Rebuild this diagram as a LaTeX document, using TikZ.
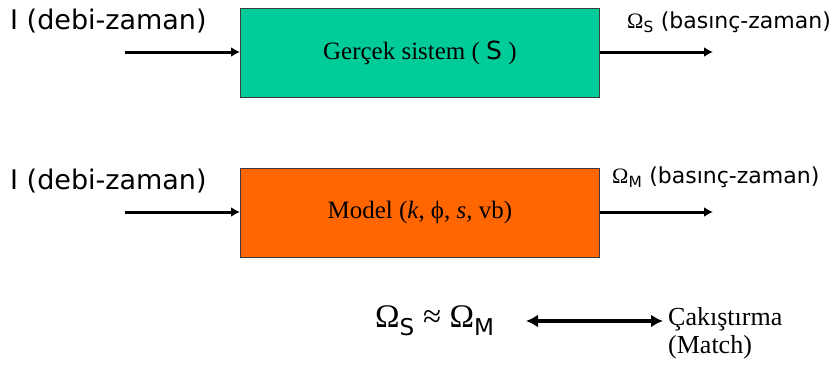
\documentclass[tikz,border=0pt]{standalone}
\usepackage{fontspec}
\setmainfont{Liberation Serif}
\newfontfamily\vsans{DejaVu Sans}
\usetikzlibrary{arrows.meta}
\definecolor{teal1}{RGB}{0,204,153}
\definecolor{orng}{RGB}{255,102,0}
\definecolor{edge}{RGB}{60,60,60}
\tikzset{
  blk/.style={draw=edge, line width=0.8pt, minimum width=359pt, minimum height=89pt, inner sep=0pt},
  arr/.style={line width=3pt, -{Latex[length=9pt,width=10pt]}},
  darr/.style={line width=4pt, {Latex[length=12pt,width=13pt]}-{Latex[length=12pt,width=13pt]}},
  biglbl/.style={inner sep=0pt, font=\vsans\fontsize{27}{31}\selectfont},
  smlbl/.style={inner sep=0pt, font=\vsans\fontsize{22}{26}\selectfont},
  boxtxt/.style={inner sep=0pt, font=\fontsize{25}{29}\selectfont},
  mtxt/.style={inner sep=0pt, font=\fontsize{26}{28}\selectfont},
}
\begin{document}
\begin{tikzpicture}[x=1pt,y=-1pt]
\useasboundingbox[fill=white] (0,0) rectangle (836,372);
% row 1
\node[blk, fill=teal1, anchor=north west] (sys) at (240,8) {};
\node[boxtxt] (systxt) at (sys.center) {Gerçek sistem ( {\vsans S} )};
\node[biglbl, anchor=base west] (in1) at (10,30) {I (debi-zaman)};
\coordinate (s1) at (125,52);
\coordinate (e1) at (713,52);
\draw[arr] (s1) -- (s1 -| sys.west);
\draw[arr] (sys.east |- e1) -- (e1);
\node[smlbl, anchor=base west] (out1) at (627,28) {{\rmfamily Ω}\textsubscript{S} (basınç-zaman)};
% row 2
\node[blk, fill=orng, anchor=north west] (mod) at (240,168) {};
\node[boxtxt] (modtxt) at (mod.center) {Model (\textit{k}, ϕ, \textit{s}, vb)};
\node[biglbl, anchor=base west] (in2) at (10,189) {I (debi-zaman)};
\coordinate (s2) at (125,212);
\coordinate (e2) at (713,212);
\draw[arr] (s2) -- (s2 -| mod.west);
\draw[arr] (mod.east |- e2) -- (e2);
\node[smlbl, anchor=base west] (out2) at (612,183) {{\rmfamily Ω}\textsubscript{M} (basınç-zaman)};
% bottom
\node[inner sep=0pt, anchor=base west, font=\fontsize{33}{37}\selectfont] (eq) at (375,327) {Ω\textsubscript{\vsans S} ≈ Ω\textsubscript{\vsans M}};
\node[mtxt, anchor=base west] (match1) at (668,325) {Çakıştırma};
\node[mtxt, anchor=base west] (match2) at (668,353) {(Match)};
\coordinate (d1) at (526,321);
\coordinate (d2) at (663,321);
\draw[darr] (d1) -- (d2);
\end{tikzpicture}
\end{document}
